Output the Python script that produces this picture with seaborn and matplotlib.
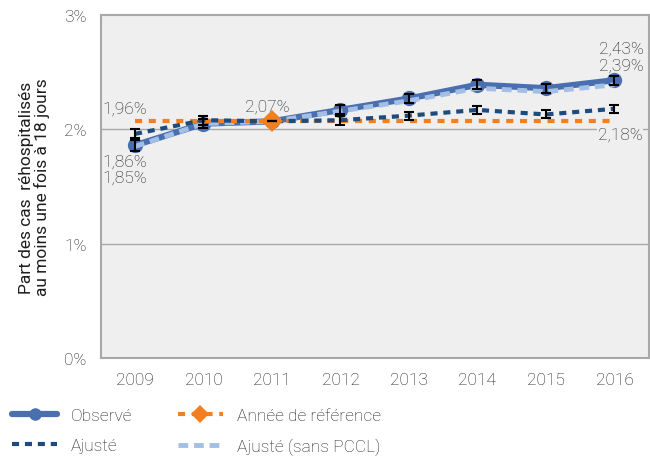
import numpy as np
import pandas as pd
import matplotlib
matplotlib.use('Agg')
import matplotlib.pyplot as plt
import seaborn as sns
from matplotlib.lines import Line2D
from matplotlib.ticker import FixedLocator

years = [2009, 2010, 2011, 2012, 2013, 2014, 2015, 2016]
observe = [1.86, 2.05, 2.07, 2.17, 2.27, 2.39, 2.36, 2.43]
ajuste = [1.96, 2.08, 2.07, 2.08, 2.12, 2.17, 2.13, 2.18]
ajuste_sans_pccl = [1.85, 2.05, 2.07, 2.16, 2.25, 2.36, 2.33, 2.39]
reference = [2.07] * 8
err_observe = [0.05, 0.04, 0.0, 0.04, 0.04, 0.04, 0.04, 0.04]
err_ajuste = [0.04, 0.04, 0.0, 0.04, 0.035, 0.035, 0.035, 0.035]

c_obs = '#4a6fae'
c_adj = '#1f4a7c'
c_pccl = '#a3bfe6'
c_ref = '#f28021'
txt = '#1e1e1e'

sns.set_style('white')
plt.rcParams['font.family'] = ['Roboto', 'DejaVu Sans']
plt.rcParams['font.weight'] = 'light'

df = pd.DataFrame({'annee': years, 'obs': observe, 'adj': ajuste,
                   'pccl': ajuste_sans_pccl, 'ref': reference})

fig = plt.figure(figsize=(6.5, 4.6), dpi=100)
ax = fig.add_axes([0.155, 0.22, 0.843, 0.745])
ax.set_facecolor('#efefef')

ax.axhline(1, color='#a8a8a8', lw=1, zorder=1)
ax.axhline(2, color='#a8a8a8', lw=1, zorder=1)

sns.lineplot(data=df, x='annee', y='obs', ax=ax, color=c_obs, lw=4.5,
             marker='o', markersize=11, markeredgewidth=0, zorder=3)
sns.lineplot(data=df, x='annee', y='pccl', ax=ax, color=c_pccl, lw=3.5,
             linestyle=(0, (2.0, 1.2)), zorder=4)
sns.lineplot(data=df, x='annee', y='ref', ax=ax, color=c_ref, lw=3,
             linestyle=(0, (1.7, 1.6)), zorder=4)
sns.lineplot(data=df, x='annee', y='adj', ax=ax, color=c_adj, lw=3,
             linestyle=(0, (1.7, 1.4)), zorder=5)
ax.plot([2011], [2.07], marker='D', color=c_ref, markersize=11,
        markeredgewidth=0, zorder=6)

ax.errorbar(years, observe, yerr=err_observe, fmt='none', ecolor='black',
            elinewidth=1.5, capsize=3.5, capthick=1.5, zorder=7)
ax.errorbar(years, ajuste, yerr=err_ajuste, fmt='none', ecolor='black',
            elinewidth=1.5, capsize=3.5, capthick=1.5, zorder=7)

ax.set_xlim(2008.5, 2016.5)
ax.set_ylim(0, 3)
ax.set_yticks([0, 1, 2, 3])
ax.set_yticklabels(['0%', '1%', '2%', '3%'])
ax.set_xticks(years)
ax.set_xticklabels([str(y) for y in years])
ax.xaxis.set_minor_locator(FixedLocator(np.arange(2008.5, 2017, 1)))
ax.tick_params(axis='x', which='major', length=0, pad=10, labelsize=12.5, colors=txt)
ax.tick_params(axis='x', which='minor', length=5, color='#a8a8a8', direction='out')
ax.tick_params(axis='y', length=6, color='#a8a8a8', direction='out', pad=4,
               labelsize=12.5, labelcolor=txt)
for s in ax.spines.values():
    s.set_color('#a8a8a8')
    s.set_linewidth(1.5)
ax.set_xlabel('')
ax.set_ylabel('Part des cas  réhospitalisés\nau moins une fois à 18 jours',
              fontsize=12.5, color=txt, linespacing=1.0, labelpad=10)

fs = 12.5
ax.text(2008.85, 2.12, '1,96%', ha='center', va='bottom', fontsize=fs, color=txt)
ax.text(2008.85, 1.79, '1,86%\n1,85%', ha='center', va='top', fontsize=fs,
        color=txt, linespacing=1.1)
ax.text(2010.93, 2.14, '2,07%', ha='center', va='bottom', fontsize=fs, color=txt)
ax.text(2016.1, 2.5, '2,43%\n2,39%', ha='center', va='bottom', fontsize=fs,
        color=txt, linespacing=1.1)
ax.text(2016.08, 1.96, '2,18%', ha='center', va='center', fontsize=fs, color=txt,
        bbox=dict(facecolor='#efefef', edgecolor='none', pad=0.5))

handles = [
    Line2D([], [], color=c_obs, lw=4.5, marker='o', markersize=9, markeredgewidth=0),
    Line2D([], [], color=c_adj, lw=3, linestyle=(0, (1.7, 1.4))),
    Line2D([], [], color=c_ref, lw=3, linestyle=(0, (1.7, 1.6)),
           marker='D', markersize=9, markeredgewidth=0),
    Line2D([], [], color=c_pccl, lw=3.5, linestyle=(0, (2.0, 1.2))),
]
labels = ['Observé', 'Ajusté', 'Année de référence', 'Ajusté (sans PCCL)']
leg = fig.legend(handles, labels, loc='lower left', bbox_to_anchor=(0.0, -0.018),
                 ncol=2, frameon=False, fontsize=12.5, handlelength=2.6,
                 handletextpad=0.8, columnspacing=2.6, labelspacing=0.85,
                 borderaxespad=0.3, labelcolor=txt)

fig.savefig('out.png', dpi=100)
